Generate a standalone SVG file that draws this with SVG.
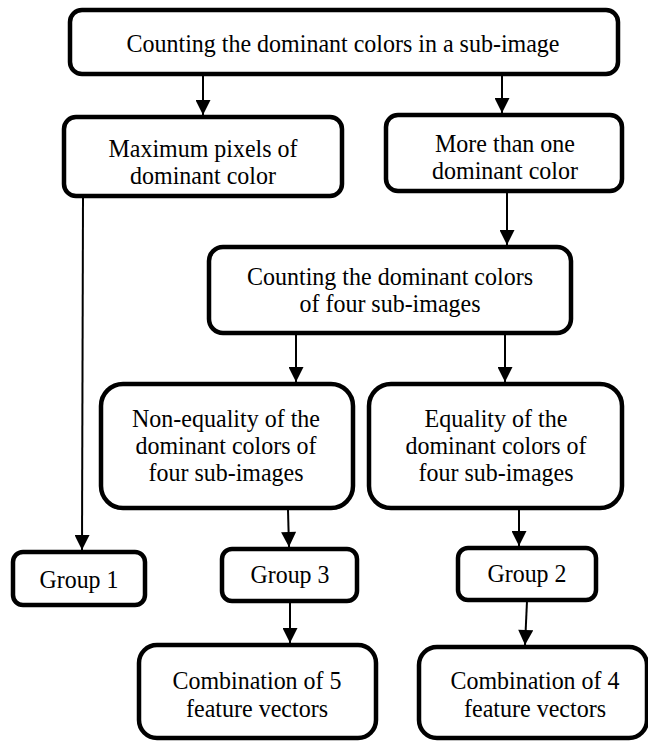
<svg xmlns="http://www.w3.org/2000/svg" width="648" height="742" viewBox="0 0 648 742">
<style>
.box{fill:#fff;stroke:#000;stroke-width:4.5}
.t{font-family:"Liberation Serif","Times New Roman",serif;font-size:26px;fill:#000;text-anchor:middle}
.c{stroke:#000;stroke-width:2;fill:none}
</style>
<defs>
<marker id="ah" viewBox="0 0 10 10" refX="10" refY="5" markerWidth="16" markerHeight="15" markerUnits="userSpaceOnUse" orient="auto">
<path d="M0,0 L10,5 L0,10 z" fill="#000"/>
</marker>
</defs>
<rect width="648" height="742" fill="#fff"/>
<g id="connectors">
<line class="c" x1="203" y1="76" x2="203" y2="115" marker-end="url(#ah)"/>
<line class="c" x1="502" y1="76" x2="502" y2="113" marker-end="url(#ah)"/>
<line class="c" x1="83" y1="197" x2="82" y2="550" stroke-width="1.5" marker-end="url(#ah)"/>
<line class="c" x1="507" y1="193" x2="507" y2="245" marker-end="url(#ah)"/>
<line class="c" x1="296" y1="335" x2="296" y2="382" marker-end="url(#ah)"/>
<line class="c" x1="505" y1="335" x2="505" y2="382" marker-end="url(#ah)"/>
<line class="c" x1="288" y1="510" x2="289" y2="547" marker-end="url(#ah)"/>
<line class="c" x1="519" y1="510" x2="519" y2="546" marker-end="url(#ah)"/>
<line class="c" x1="290" y1="603" x2="290" y2="643" marker-end="url(#ah)"/>
<line class="c" x1="527" y1="601" x2="525" y2="645" marker-end="url(#ah)"/>
</g>
<g id="n1"><rect class="box" x="70" y="10" width="548" height="64" rx="12"/><text class="t" x="343" y="52" textLength="433" lengthAdjust="spacingAndGlyphs">Counting the dominant colors in a sub-image</text></g>
<g id="n2"><rect class="box" x="64" y="117" width="278" height="79" rx="12"/><text class="t" x="203" y="157" textLength="189" lengthAdjust="spacingAndGlyphs">Maximum pixels of</text><text class="t" x="203" y="184" textLength="146" lengthAdjust="spacingAndGlyphs">dominant color</text></g>
<g id="n3"><rect class="box" x="386" y="115" width="236" height="76" rx="12"/><text class="t" x="505" y="152" textLength="140" lengthAdjust="spacingAndGlyphs">More than one</text><text class="t" x="505" y="179" textLength="146" lengthAdjust="spacingAndGlyphs">dominant color</text></g>
<g id="n4"><rect class="box" x="209" y="247" width="362" height="86" rx="14"/><text class="t" x="390" y="285" textLength="286" lengthAdjust="spacingAndGlyphs">Counting the dominant colors</text><text class="t" x="390" y="312" textLength="181" lengthAdjust="spacingAndGlyphs">of four sub-images</text></g>
<g id="n5"><rect class="box" x="101" y="384" width="252" height="124" rx="22"/><text class="t" x="226" y="427" textLength="188" lengthAdjust="spacingAndGlyphs">Non-equality of the</text><text class="t" x="226" y="454" textLength="181" lengthAdjust="spacingAndGlyphs">dominant colors of</text><text class="t" x="226" y="481" textLength="155" lengthAdjust="spacingAndGlyphs">four sub-images</text></g>
<g id="n6"><rect class="box" x="369" y="384" width="253" height="124" rx="22"/><text class="t" x="496" y="427" textLength="143" lengthAdjust="spacingAndGlyphs">Equality of the</text><text class="t" x="496" y="454" textLength="181" lengthAdjust="spacingAndGlyphs">dominant colors of</text><text class="t" x="496" y="481" textLength="155" lengthAdjust="spacingAndGlyphs">four sub-images</text></g>
<g id="n7"><rect class="box" x="13" y="552" width="132" height="53" rx="10"/><text class="t" x="79" y="588" textLength="79" lengthAdjust="spacingAndGlyphs">Group 1</text></g>
<g id="n8"><rect class="box" x="222" y="549" width="135" height="52" rx="10"/><text class="t" x="290" y="583" textLength="79" lengthAdjust="spacingAndGlyphs">Group 3</text></g>
<g id="n9"><rect class="box" x="458" y="548" width="138" height="52" rx="10"/><text class="t" x="527" y="582" textLength="79" lengthAdjust="spacingAndGlyphs">Group 2</text></g>
<g id="n10"><rect class="box" x="139" y="645" width="237" height="93" rx="18"/><text class="t" x="257" y="689" textLength="169" lengthAdjust="spacingAndGlyphs">Combination of 5</text><text class="t" x="257" y="717" textLength="142" lengthAdjust="spacingAndGlyphs">feature vectors</text></g>
<g id="n11"><rect class="box" x="419" y="647" width="228" height="91" rx="18"/><text class="t" x="535" y="689" textLength="169" lengthAdjust="spacingAndGlyphs">Combination of 4</text><text class="t" x="535" y="717" textLength="142" lengthAdjust="spacingAndGlyphs">feature vectors</text></g>
</svg>
